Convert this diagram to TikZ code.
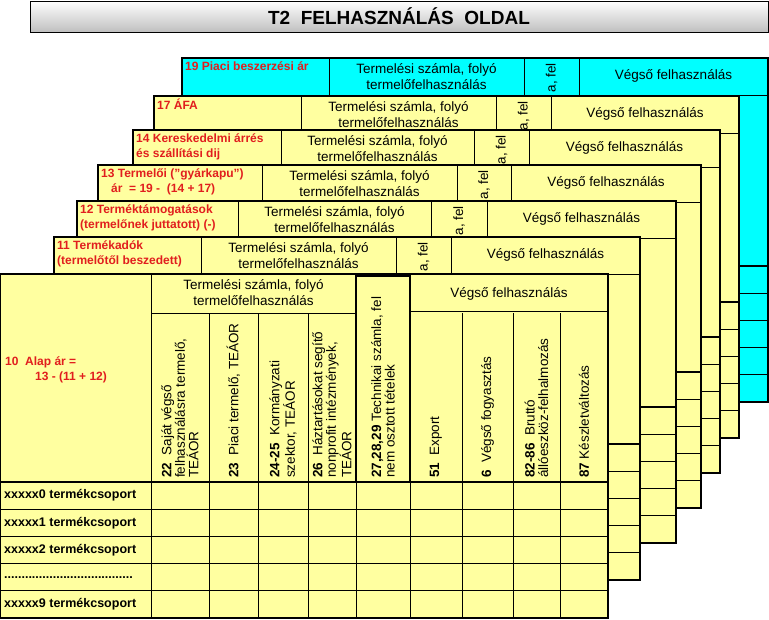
\documentclass[tikz,border=0pt]{standalone}
\usepackage{fontspec}
\setmainfont{Liberation Sans}
\usepackage{xcolor}
\usetikzlibrary{positioning}
\definecolor{sheetyellow}{RGB}{255,255,160}
\definecolor{sheetcyan}{RGB}{0,255,255}
\definecolor{labelred}{RGB}{225,30,30}
\tikzset{
  frame/.style={line width=1.6pt},
  grid/.style={line width=0.7pt},
  hdr/.style={font=\fontsize{13.5}{16}\selectfont, align=center, inner sep=1pt},
  redlbl/.style={font=\fontsize{12}{15.5}\selectfont\bfseries, text=labelred, align=left, inner sep=1pt, anchor=north west},
  vtext/.style={font=\fontsize{13.5}{13.5}\selectfont, rotate=90, anchor=west, align=left, inner sep=1pt},
  rowlbl/.style={font=\fontsize{12.5}{15}\selectfont\bfseries, anchor=west, inner sep=1pt}
}
\begin{document}
\begin{tikzpicture}[x=1pt,y=-1pt]
  \useasboundingbox (0,0) rectangle (769,619);

  % title bar
  \shade[top color=white, bottom color=black!25, draw=black, line width=0.8pt] (30,1) rectangle (768,32);
  \node[font=\fontsize{19}{21}\selectfont\bfseries] (title) at (399,16.5) {T2\ \ FELHASZNÁLÁS\ \ OLDAL};

  % back sheets, from the back to the front
  \foreach \L/\T/\R/\B/\A/\Fa/\Fb/\c/\txt [count=\i] in {
      182/58/768/402/329/524/579/sheetcyan/{19 Piaci beszerzési ár},
      154/96/739/438/301/496/551/sheetyellow/{17 ÁFA},
      133/130/720/473/281/474/529/sheetyellow/{14 Kereskedelmi árrés\\és szállítási dij},
      98/165/701/508/262/457/511/sheetyellow/{13 Termelői ("gyárkapu")\\\ \ \ ár\ \ = 19 -\ \ (14 + 17)},
      77/201/676/543/238/431/487/sheetyellow/{12 Terméktámogatások\\(termelőnek juttatott) (-)},
      54/237/640/580/201/396/451/sheetyellow/{11 Termékadók\\(termelőtől beszedett)}} {
    \fill[\c] (\L,\T) rectangle (\R,\B);
    \draw[grid] (\A,\T+37) -- (\Fa,\T+37) (\Fb,\T+37) -- (\R,\T+37);
    \draw[grid] (\A,\T) -- (\A,\B-136) (\Fa,\T) -- (\Fa,\B-136) (\Fb,\T) -- (\Fb,\B-136);
    \foreach \k in {1,...,4}
      \draw[grid] (\L,\B-136+27.2*\k) -- (\R,\B-136+27.2*\k);
    \draw[frame] (\L,\B-136) -- (\R,\B-136);
    \draw[frame] (\L,\T) rectangle (\R,\B);
    \node[redlbl] (lbl\i) at (\L+2,\T+2) {\txt};
    \node[hdr] (prod\i) at ({(\A+\Fa)/2},\T+19) {Termelési számla, folyó\\termelőfelhasználás};
    \node[hdr] (final\i) at ({(\Fb+\R)/2},\T+18) {Végső felhasználás};
    \node[hdr, rotate=90, anchor=east] (tech\i) at ({(\Fa+\Fb)/2},\T+4) {a, fel};
  }

  % front sheet
  \fill[sheetyellow] (0,274) rectangle (608,618);
  \foreach \x in {151,209,258,308,356,410,462,513,560}
    \draw[grid] (\x,482) -- (\x,618);
  \foreach \k in {1,...,4}
    \draw[grid] (0,482+27.2*\k) -- (608,482+27.2*\k);
  \draw[frame] (0,482) -- (608,482);
  \draw[grid] (151,274) -- (151,482) (151,313) -- (356,313) (410,311) -- (608,311);
  \foreach \x in {209,258,308,462,513,560}
    \draw[grid] (\x,313) -- (\x,482);
  \draw[frame] (356,276) rectangle (410,482);
  \draw[frame] (0,274) rectangle (608,618);

  \node[redlbl, anchor=west] (base) at (4,370) {10\ \ Alap ár =\\\ \ \ \ \ \ \ \ \ 13 - (11 + 12)};
  \node[hdr] (prod) at (253.5,293) {Termelési számla, folyó\\termelőfelhasználás};
  \node[hdr] (final) at (509,294) {Végső felhasználás};

  \node[vtext] (c22) at (180,479) {\textbf{22}\ \ Saját végső\\felhasználásra termelő,\\TEÁOR};
  \node[vtext] (c23) at (233.5,479) {\textbf{23}\ \ Piaci termelő, TEÁOR};
  \node[vtext] (c24) at (283,479) {\textbf{24-25}\ \ Kormányzati\\szektor, TEÁOR};
  \node[vtext] (c26) at (332,479) {\textbf{26}\ \ Háztartásokat segítő\\nonprofit intézmények,\\TEÁOR};
  \node[vtext] (c27) at (383,479) {\textbf{27,28,29} Technikai számla, fel\\nem osztott tételek};
  \node[vtext] (c51) at (436,479) {\textbf{51}\ \ Export};
  \node[vtext] (c6) at (487.5,479) {\textbf{6}\ \ Végső fogyasztás};
  \node[vtext] (c82) at (536.5,479) {\textbf{82-86}\ \ Bruttó\\állóeszköz-felhalmozás};
  \node[vtext] (c87) at (584,479) {\textbf{87} Készletváltozás};

  \node[rowlbl] (r0) at (3,495.6) {xxxxx0 termékcsoport};
  \node[rowlbl] (r1) at (3,522.8) {xxxxx1 termékcsoport};
  \node[rowlbl] (r2) at (3,550) {xxxxx2 termékcsoport};
  \node[rowlbl] (rdots) at (3,577.2) {.....................................};
  \node[rowlbl] (r9) at (3,604.4) {xxxxx9 termékcsoport};
\end{tikzpicture}
\end{document}
